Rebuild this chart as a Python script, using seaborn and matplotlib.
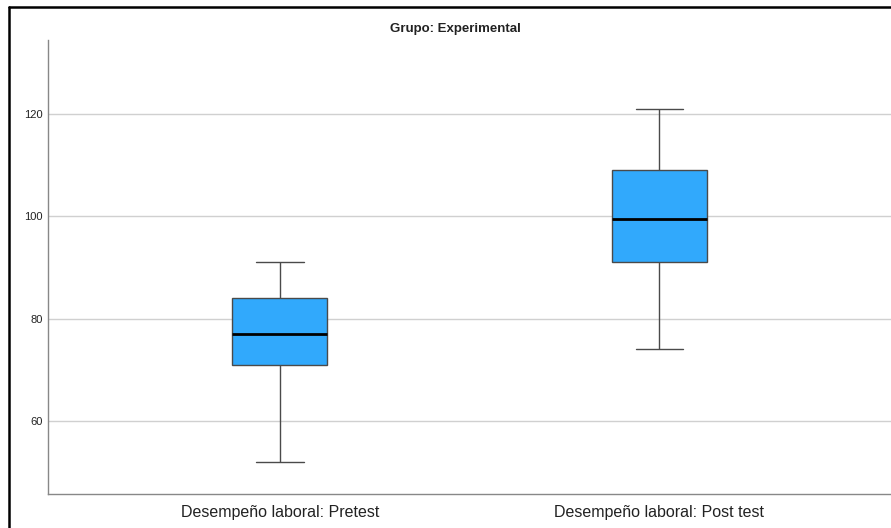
import matplotlib
matplotlib.use("Agg")
import matplotlib.pyplot as plt
from matplotlib.lines import Line2D
import seaborn as sns
import pandas as pd

# five-number summaries (min, Q1, median, Q3, max)
categorias = ["Desempeño laboral: Pretest", "Desempeño laboral: Post test"]
pretest = [52, 71, 77, 84, 91]
postest = [74, 91, 99.5, 109, 121]
yticks = [60, 80, 100, 120]

df = pd.DataFrame({
    "prueba": [categorias[0]] * len(pretest) + [categorias[1]] * len(postest),
    "valor": pretest + postest,
})

sns.set_theme(style="white")
plt.rcParams["font.family"] = ["Liberation Sans", "DejaVu Sans"]

fig = plt.figure(figsize=(8.91, 5.28), dpi=100)
ax = fig.add_axes([48 / 891, 34 / 528, 1 - 48 / 891, 454 / 528])

sns.boxplot(data=df, x="prueba", y="valor", order=categorias, ax=ax,
            color="#31A9FC", saturation=1, width=0.25, whis=1.5,
            linecolor="#4a4a4a", linewidth=1.0,
            medianprops=dict(color="black", linewidth=2.0),
            showfliers=False)

ax.set_xlim(-0.611, 1.61)
ax.set_ylim(45.7, 134.5)
ax.set_yticks(yticks)
ax.yaxis.grid(True, color="#d0d0d0", linewidth=1.0)
ax.set_axisbelow(True)
ax.tick_params(axis="y", length=0, pad=4, labelsize=8, colors="#222222")
ax.tick_params(axis="x", length=0, pad=8, labelsize=11.5, colors="#222222")
ax.set_xlabel("")
ax.set_ylabel("")
for s in ["top", "right"]:
    ax.spines[s].set_visible(False)
for s in ["left", "bottom"]:
    ax.spines[s].set_color("#888888")
    ax.spines[s].set_linewidth(1.0)

fig.text(455 / 891, 1 - 29 / 528, "Grupo: Experimental", ha="center", va="center",
         fontsize=9.5, fontweight="bold", color="#222222")

# outer frame of the output viewer
fig.add_artist(Line2D([8.5 / 891, 1], [1 - 6.5 / 528] * 2, color="black", linewidth=1.8,
                      transform=fig.transFigure))
fig.add_artist(Line2D([8.5 / 891] * 2, [0, 1 - 6.5 / 528], color="black", linewidth=1.8,
                      transform=fig.transFigure))

fig.savefig("out.png", dpi=100)
